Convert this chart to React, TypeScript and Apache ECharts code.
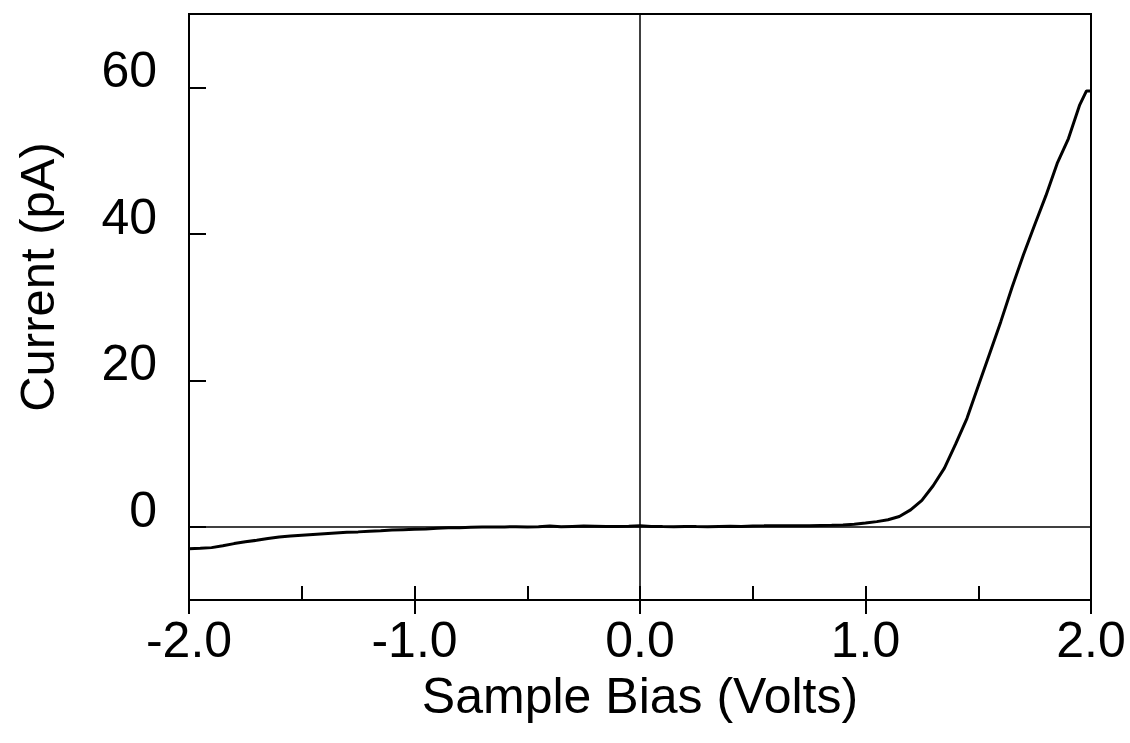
import React, { useEffect, useRef } from "react";
import * as echarts from "echarts";

const volts = [
  -2.0, -1.95, -1.9, -1.85, -1.8, -1.75, -1.7, -1.65, -1.6, -1.55, -1.5, -1.45, -1.4, -1.35, -1.3, -1.25,
  -1.2, -1.15, -1.1, -1.05, -1.0, -0.95, -0.9, -0.85, -0.8, -0.75, -0.7, -0.65, -0.6, -0.55, -0.5, -0.45,
  -0.4, -0.35, -0.3, -0.25, -0.2, -0.15, -0.1, -0.05, 0.0, 0.05, 0.1, 0.15, 0.2, 0.25, 0.3, 0.35, 0.4,
  0.45, 0.5, 0.55, 0.6, 0.65, 0.7, 0.75, 0.8, 0.85, 0.9, 0.95, 1.0, 1.05, 1.1, 1.15, 1.2, 1.25, 1.3,
  1.35, 1.4, 1.45, 1.5, 1.55, 1.6, 1.65, 1.7, 1.75, 1.8, 1.85, 1.9, 1.95, 1.98, 2.0,
];
const current = [
  -3.0, -2.95, -2.85, -2.6, -2.3, -2.05, -1.85, -1.6, -1.4, -1.25, -1.15, -1.05, -0.95, -0.85, -0.75, -0.7,
  -0.6, -0.55, -0.45, -0.4, -0.35, -0.3, -0.2, -0.15, -0.12, -0.08, -0.05, -0.05, -0.02, 0.0, -0.03, 0.0,
  0.1, 0.0, 0.05, 0.1, 0.08, 0.05, 0.05, 0.08, 0.12, 0.05, 0.02, 0.0, 0.05, 0.02, 0.0, 0.05, 0.08,
  0.05, 0.1, 0.12, 0.15, 0.15, 0.15, 0.15, 0.18, 0.2, 0.25, 0.35, 0.5, 0.7, 0.95, 1.4, 2.3, 3.6, 5.6,
  8.0, 11.3, 14.8, 19.2, 23.6, 28.0, 32.7, 37.1, 41.2, 45.2, 49.6, 53.0, 57.6, 59.5, 59.5,
];
const yTickValues = [0, 20, 40, 60];
const xTitle = "Sample Bias (Volts)";
const yTitle = "Current (pA)";

const FONT = "'Liberation Sans', Arial, Helvetica, sans-serif";

export default function App() {
  const ref = useRef<HTMLDivElement>(null);
  useEffect(() => {
    document.body.style.margin = "0";
    if (!ref.current) return;
    const chart = echarts.init(ref.current, undefined, { renderer: "svg" });
    const data = volts.map((v, i) => [v, current[i]]);
    chart.setOption({
      animation: false,
      backgroundColor: "#fff",
      grid: {
        left: 189,
        right: 39,
        top: 14,
        bottom: 143,
        show: true,
        borderColor: "#000",
        borderWidth: 2,
        backgroundColor: "transparent",
      },
      xAxis: [
        {
          type: "value",
          min: -2,
          max: 2,
          interval: 0.5,
          position: "bottom",
          axisLine: { show: true, onZero: false, lineStyle: { color: "#000", width: 2 } },
          axisTick: { show: true, inside: true, length: 14, lineStyle: { color: "#000", width: 2 } },
          axisLabel: { show: false },
          splitLine: { show: false },
        },
        {
          type: "value",
          min: -2,
          max: 2,
          interval: 1,
          position: "bottom",
          axisLine: { show: false, onZero: false },
          axisTick: { show: true, inside: false, length: 14, lineStyle: { color: "#000", width: 2 } },
          axisLabel: {
            show: true,
            margin: 15,
            color: "#000",
            fontSize: 50,
            fontFamily: FONT,
            formatter: (v: number) => v.toFixed(1),
          },
          splitLine: { show: false },
          name: xTitle,
          nameLocation: "middle",
          nameGap: 71,
          nameTextStyle: { color: "#000", fontSize: 50, fontFamily: FONT },
        },
      ],
      yAxis: {
        type: "value",
        min: -10,
        max: 70,
        interval: 10,
        axisLine: { show: true, onZero: false, lineStyle: { color: "#000", width: 2 } },
        axisTick: {
          show: true,
          inside: true,
          length: 17,
          customValues: yTickValues,
          lineStyle: { color: "#000", width: 2 },
        },
        axisLabel: {
          show: true,
          margin: 32,
          color: "#000",
          fontSize: 50,
          fontFamily: FONT,
          customValues: yTickValues,
          verticalAlign: "bottom",
          lineHeight: 34,
        },
        splitLine: { show: false },
        name: yTitle,
        nameLocation: "middle",
        nameGap: 128,
        nameRotate: 90,
        nameTextStyle: { color: "#000", fontSize: 49, fontFamily: FONT, padding: [0, 0, 0, 60] },
      },
      series: [
        {
          type: "line",
          xAxisIndex: 0,
          yAxisIndex: 0,
          data,
          showSymbol: false,
          symbol: "none",
          lineStyle: { color: "#000", width: 3 },
          markLine: {
            silent: true,
            symbol: ["none", "none"],
            label: { show: false },
            lineStyle: { color: "#000", width: 1.5, type: "solid" },
            data: [{ xAxis: 0 }, { yAxis: 0 }],
          },
          z: 3,
        },
      ],
    });
    return () => chart.dispose();
  }, []);
  return <div ref={ref} style={{ width: 1130, height: 743 }} />;
}
